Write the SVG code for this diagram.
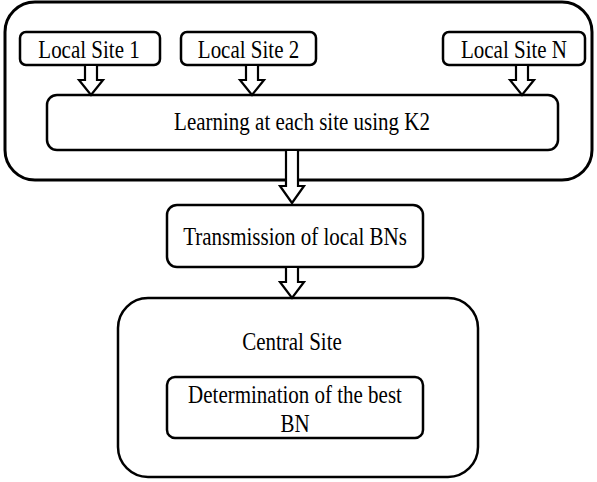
<svg xmlns="http://www.w3.org/2000/svg" width="597" height="482" viewBox="0 0 597 482">
  <style>
    .box { fill: #ffffff; stroke: #000000; stroke-width: 2.5; }
    .outer { fill: #ffffff; stroke: #000000; stroke-width: 3; }
    .arrow { fill: #ffffff; stroke: #000000; stroke-width: 2.2; stroke-linejoin: miter; }
    .label { font-family: "Liberation Serif", "Times New Roman", serif; font-size: 21px; fill: #000000; text-anchor: middle; }
  </style>
  <defs>
    <!-- hollow block arrow, tip at origin, pointing down -->
    <path id="blockArrowShort" d="M -6,-30 L 6,-30 L 6,-15 L 12,-15 L 0,0 L -12,-15 L -6,-15 Z"/>
  </defs>

  <g id="local-sites-region">
    <rect class="outer" x="5" y="2" width="587" height="178" rx="30" ry="30"/>
  </g>

  <g id="local-site-1">
    <rect class="box" x="20" y="32" width="140" height="33" rx="6" ry="6"/>
    <text class="label" transform="translate(89,58) scale(1,1.15)">Local Site 1</text>
  </g>
  <g id="local-site-2">
    <rect class="box" x="181" y="32" width="135" height="33" rx="6" ry="6"/>
    <text class="label" transform="translate(248.5,58) scale(1,1.15)">Local Site 2</text>
  </g>
  <g id="local-site-n">
    <rect class="box" x="443" y="32" width="142" height="33" rx="6" ry="6"/>
    <text class="label" transform="translate(514,58) scale(1,1.15)">Local Site N</text>
  </g>

  <g id="learning">
    <rect class="box" x="47" y="95" width="511" height="55" rx="10" ry="10"/>
    <text class="label" transform="translate(302,130) scale(1,1.15)">Learning at each site using K2</text>
  </g>

  <g id="transmission">
    <rect class="box" x="167" y="205" width="256" height="62" rx="10" ry="10"/>
    <text class="label" transform="translate(295,245) scale(1,1.15)">Transmission of local BNs</text>
  </g>

  <g id="central-site">
    <rect class="box" x="118" y="298" width="360" height="179" rx="30" ry="30"/>
    <text class="label" transform="translate(292,350) scale(1,1.15)">Central Site</text>
  </g>

  <g id="best-bn">
    <rect class="box" x="167" y="377" width="256" height="61" rx="8" ry="8"/>
    <text class="label" transform="translate(295,403) scale(1,1.15)">Determination of the best</text>
    <text class="label" transform="translate(295,432) scale(1,1.15)">BN</text>
  </g>

  <g id="connectors">
    <use href="#blockArrowShort" class="arrow" transform="translate(91,95)"/>
    <use href="#blockArrowShort" class="arrow" transform="translate(252,95)"/>
    <use href="#blockArrowShort" class="arrow" transform="translate(522,95)"/>
    <path class="arrow" d="M 286,150 L 298,150 L 298,186 L 304,186 L 292,203 L 280,186 L 286,186 Z"/>
    <path class="arrow" d="M 286,267 L 298,267 L 298,282 L 304,282 L 292,298 L 280,282 L 286,282 Z"/>
  </g>
</svg>
